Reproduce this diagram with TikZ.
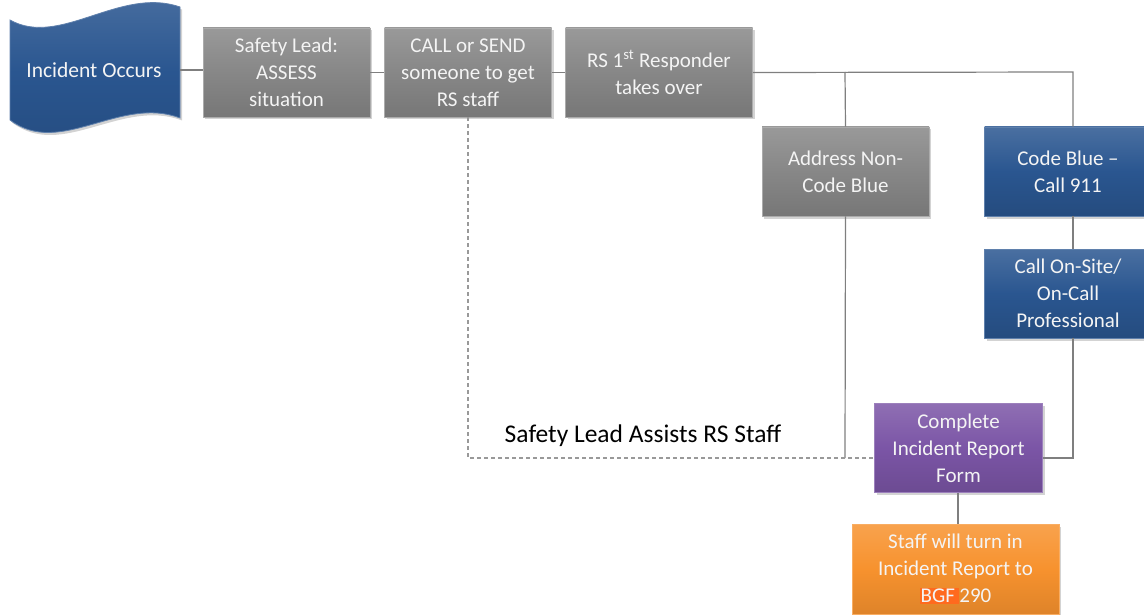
\documentclass[tikz,border=0pt]{standalone}
\usepackage{fontspec}
\setmainfont{Carlito}
\usetikzlibrary{shadows}
\definecolor{cgray}{HTML}{878787}
\definecolor{cblue}{HTML}{2A5690}
\definecolor{cpurple}{HTML}{7B55A6}
\definecolor{corange}{HTML}{F7922E}
\definecolor{chl}{HTML}{FF6A1E}
\definecolor{ctext}{HTML}{F4F4F4}
\definecolor{cline}{HTML}{7F7F7F}
\tikzset{
  boxbase/.style={rectangle, align=center, text=ctext, inner sep=2pt,
    font=\fontsize{21}{27}\selectfont, minimum height=89pt,
    drop shadow={shadow xshift=2pt, shadow yshift=-2.5pt, opacity=0.35}},
  graybox/.style={boxbase, top color=cgray!85!white, bottom color=cgray!88!black, middle color=cgray, draw=cgray!70!white, line width=0.8pt},
  bluebox/.style={boxbase, top color=cblue!85!white, bottom color=cblue!88!black, middle color=cblue, draw=cblue!75!white, line width=0.8pt},
  purplebox/.style={boxbase, top color=cpurple!85!white, bottom color=cpurple!88!black, middle color=cpurple, draw=cpurple!75!white, line width=0.8pt},
  orangebox/.style={boxbase, top color=corange!85!white, bottom color=corange!90!black, middle color=corange, draw=corange!75!white, line width=0.8pt},
  conn/.style={draw=cline, line width=1.2pt},
  dconn/.style={draw=cline!80!white, line width=1.2pt, dash pattern=on 4pt off 3pt},
}
\begin{document}
\begin{tikzpicture}[x=1pt,y=-1pt]
\useasboundingbox (0,0) rectangle (1144,615);
% tape shape
\path[top color=cblue!85!white, bottom color=cblue!88!black, middle color=cblue,
      draw=cblue!75!white, line width=0.8pt,
      drop shadow={shadow xshift=2pt, shadow yshift=-2.5pt, opacity=0.35}]
  (10,20) .. controls (60,48) and (120,-14) .. (180,7)
  -- (180,118) .. controls (120,95) and (60,158) .. (10,120) -- cycle;
\node[text=ctext, font=\fontsize{21.5}{27}\selectfont] (inc) at (94,70) {Incident Occurs};
\coordinate (incE) at (180,70);

\node[graybox, minimum width=167pt] (safety) at (286.5,72.5) {Safety Lead:\\ASSESS\\situation};
\node[graybox, minimum width=167pt] (call) at (468,72.5) {CALL or SEND\\someone to get\\RS staff};
\node[graybox, minimum width=187pt] (rs) at (659,72.5) {RS 1\textsuperscript{st} Responder\\takes over};
\node[graybox, minimum width=167pt] (addr) at (845.5,171.5) {Address Non-\\Code Blue};
\node[bluebox, minimum width=167pt] (code) at (1068,171.5) {Code Blue --\\Call 911};
\node[bluebox, minimum width=167pt] (onsite) at (1068,293.5) {Call On-Site/\\On-Call\\Professional};
\node[purplebox, minimum width=168pt] (complete) at (958.5,448) {Complete\\Incident Report\\Form};
\node[orangebox, minimum width=207pt, minimum height=90pt] (staff) at (955.5,569) {Staff will turn in\\Incident Report to\\{\setlength{\fboxsep}{1pt}\colorbox{chl}{BGF\,}}290};

\node[font=\fontsize{25.5}{30}\selectfont, text=black] (lbl) at (643,436) {Safety Lead Assists RS Staff};

% junction coordinates
\coordinate (j1) at (845,72);
\coordinate (j2) at (1073,72);
\coordinate (j3) at (1073,458);
\coordinate (j4) at (845,458);
\coordinate (j5) at (468,458);

% connectors
\draw[conn] (incE) -- (safety.west |- incE);
\draw[conn] (safety.east) -- (call.west);
\draw[conn] (call.east) -- (rs.west);
\draw[conn] (rs.east) -- (j2) -- (j2 |- code.north);
\draw[conn] (j1) -- (addr.north);
\draw[conn] (addr.south) -- (j4);
\draw[conn] (code.south -| j2) -- (onsite.north -| j2);
\draw[conn] (onsite.south -| j2) -- (j3) -- (j3 -| complete.east);
\draw[dconn] (call.south) -- (j5) -- (j5 -| complete.west);
\draw[conn] (complete.south -| 958,0) -- (staff.north -| 958,0);
\end{tikzpicture}
\end{document}
